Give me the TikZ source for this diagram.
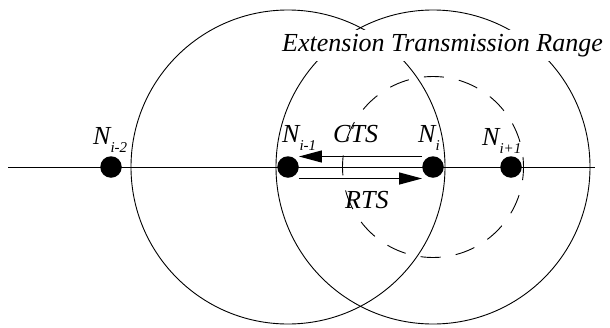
\documentclass[tikz,border=0pt]{standalone}
\usepackage{fontspec}
\setmainfont{Liberation Serif}
\usetikzlibrary{arrows.meta}
\newcommand\lblsub[1]{\raisebox{-8pt}{\fontsize{15}{15}\selectfont #1}}
\begin{document}
\begin{tikzpicture}[x=1pt,y=-1pt,
  lbl/.style={font=\fontsize{26}{30}\selectfont\itshape, inner sep=0pt, anchor=base west},
  dotnode/.style={circle, fill=black, minimum size=21.5pt, inner sep=0pt},
  ring/.style={line width=0.9pt},
  dashring/.style={line width=0.9pt, dash pattern=on 20pt off 15.34pt, dash phase=10pt},
  axis/.style={line width=1pt},
  msg/.style={line width=1.3pt, -{Triangle[length=23pt,width=12pt]}}]
\useasboundingbox (0,0) rectangle (610,327);
\coordinate (p2) at (111,167);
\coordinate (p1) at (288,167);
\coordinate (p0) at (433,167);
\coordinate (q1) at (511,167);
\coordinate (L) at (8,167);
\coordinate (R) at (595,167);
% axis and ranges
\draw[axis] (L) -- (R);
\draw[ring] (p1) circle[radius=157pt];
\draw[ring] (p0) circle[radius=157pt];
\draw[dashring] (p0) circle[radius=90.5pt];
% nodes
\node[dotnode] (nim2) at (p2) {};
\node[dotnode] (nim1) at (p1) {};
\node[dotnode] (ni) at (p0) {};
\node[dotnode] (nip1) at (q1) {};
% messages
\draw[msg] ([yshift=10.5pt]ni.west) -- ([yshift=10.5pt]nim1.east);
\draw[msg] ([yshift=-11.5pt]nim1.east) -- ([yshift=-11.5pt]ni.west);
% labels
\node[lbl, fill=white, inner xsep=3pt, inner ysep=4pt] (title) at (279,51) {Extension Transmission Range};
\node[lbl] (lnim2) at (93,144) {N\lblsub{i-2}};
\node[lbl] (lnim1) at (282,142) {N\lblsub{i-1}};
\node[lbl] (lni) at (418,142) {N\lblsub{i}};
\node[lbl] (lnip1) at (482,145) {N\lblsub{i+1}};
\node[lbl] (cts) at (333,142) {CTS};
\node[lbl] (rts) at (345,208) {RTS};
\end{tikzpicture}
\end{document}
